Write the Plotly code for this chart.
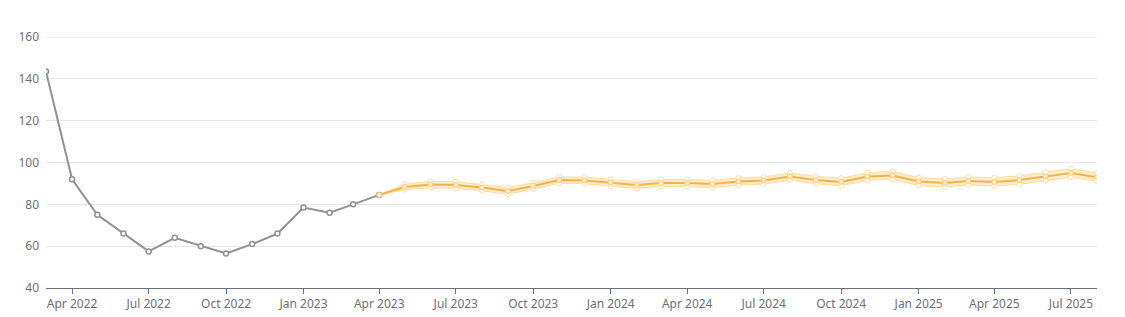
import plotly.graph_objects as go
import pandas as pd

hist_dates = pd.date_range("2022-03-01", "2023-04-01", freq="MS")
hist_values = [143.5, 92, 75, 66, 57.5, 64, 60, 56.5, 61, 66, 78.5, 76, 80, 84.5]

fc_dates = pd.date_range("2023-04-01", "2025-08-01", freq="MS")
fc_mid = [84.5, 88.3, 89.5, 89.2, 88.0, 86.4, 88.8, 91.6, 91.4, 90.4, 89.2, 90.2, 90.2,
          89.7, 90.9, 91.4, 93.3, 91.6, 90.7, 93.3, 93.8, 90.9, 90.2, 91.2, 90.7, 91.6,
          93.3, 95.0, 93.0]
fc_upper = [84.5, 89.6, 91.0, 90.8, 89.5, 88.0, 90.3, 93.1, 93.0, 92.0, 90.8, 91.8, 91.9,
            91.4, 92.6, 93.1, 95.0, 93.4, 92.5, 95.1, 95.7, 92.8, 92.1, 93.1, 92.7, 93.6,
            95.3, 97.0, 95.0]
fc_lower = [84.5, 87.0, 88.0, 87.6, 86.5, 84.8, 87.3, 90.1, 89.8, 88.8, 87.6, 88.6, 88.5,
            88.0, 89.2, 89.7, 91.6, 89.8, 88.9, 91.5, 91.9, 89.0, 88.3, 89.3, 88.7, 89.6,
            91.3, 93.0, 91.0]

y_ticks = [40, 60, 80, 100, 120, 140, 160]

orange = "rgb(247,178,70)"
light = "rgba(253,215,150,0.9)"
grid = "#e6e6e6"

fig = go.Figure()

fig.add_trace(go.Scatter(
    x=fc_dates, y=fc_lower, mode="lines+markers",
    line=dict(color=light, width=1),
    marker=dict(symbol="circle", size=5, color="white", line=dict(color=light, width=1)),
    showlegend=False, hoverinfo="skip"))
fig.add_trace(go.Scatter(
    x=fc_dates, y=fc_upper, mode="lines+markers", fill="tonexty",
    fillcolor="rgba(253,215,145,0.45)",
    line=dict(color=light, width=1),
    marker=dict(symbol="circle", size=5, color="white", line=dict(color=light, width=1)),
    showlegend=False, hoverinfo="skip"))
fig.add_trace(go.Scatter(
    x=hist_dates, y=hist_values, mode="lines+markers",
    line=dict(color="rgb(145,145,145)", width=2),
    marker=dict(symbol="circle", size=5, color="white", line=dict(color="rgb(145,145,145)", width=1.5)),
    showlegend=False))
fig.add_trace(go.Scatter(
    x=fc_dates, y=fc_mid, mode="lines+markers",
    line=dict(color=orange, width=2),
    marker=dict(symbol="circle", size=5, color="rgb(253,236,205)", line=dict(color="rgb(250,200,120)", width=1)),
    showlegend=False))

# top gridline (plotly skips the one on the plot edge)
fig.add_shape(type="line", xref="paper", x0=0, x1=1, yref="y",
              y0=max(y_ticks), y1=max(y_ticks), line=dict(color=grid, width=1), layer="below")

fig.update_layout(
    width=1125, height=317,
    margin=dict(l=46, r=28, t=37, b=29),
    paper_bgcolor="white", plot_bgcolor="white",
    font=dict(family="Noto Sans, Open Sans, sans-serif", size=12, color="#6e7079"),
    xaxis=dict(
        type="date", automargin=False,
        range=["2022-03-01", "2025-08-01"],
        tick0="2022-04-01", dtick="M3", tickformat="%b %Y",
        showgrid=False, zeroline=False,
        showline=True, linecolor="#6e7079", linewidth=1,
        ticks="outside", ticklen=5, tickcolor="#6e7079",
        tickfont=dict(size=12, color="#6e7079"),
    ),
    yaxis=dict(
        automargin=False,
        range=[40, 160], tickvals=y_ticks,
        showgrid=True, gridcolor=grid, gridwidth=1,
        zeroline=False, showline=False, ticks="",
        ticklabelstandoff=6,
        tickfont=dict(size=12, color="#6e7079"),
    ),
)

fig.write_html("out.html")
